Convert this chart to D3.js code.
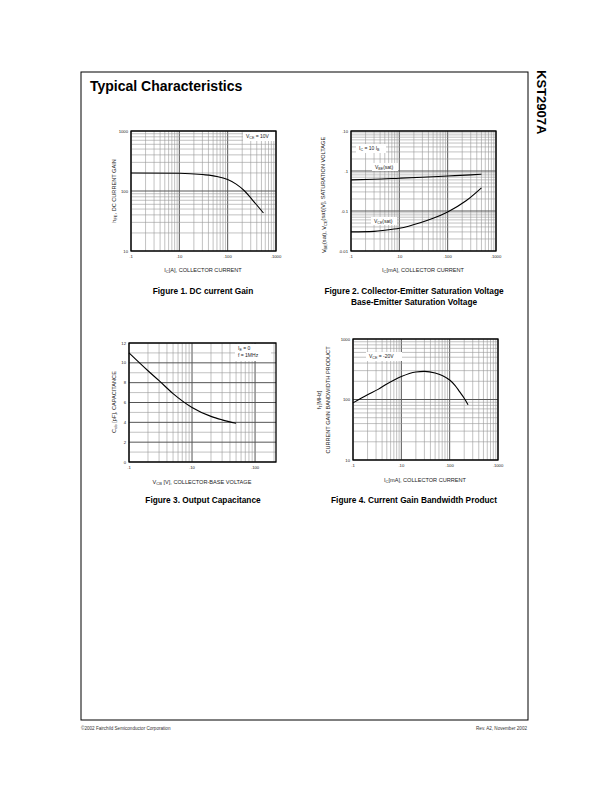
<!DOCTYPE html>
<html><head><meta charset="utf-8">
<script src="https://cdn.jsdelivr.net/npm/d3@7"></script>
<style>body{margin:0;background:#fff}svg{display:block}text{font-family:"Liberation Sans",Arial,sans-serif}</style>
</head><body>
<svg id="page" width="612" height="792"></svg>
<script>
// ---- data ----
const fig1Current = [1, 10, 30, 60, 100, 150, 224, 330, 550];
const fig1Gain = [200, 198, 188, 175, 155, 130, 100, 70, 43];
const fig1XTicks = [".1", ".10", ".100", ".1000"];
const fig1YTicks = ["10", "100", "1000"];

const fig2Current = [1, 3, 10, 30, 100, 300, 500];
const fig2Vbe = [0.60, 0.62, 0.66, 0.70, 0.75, 0.80, 0.83];
const fig2VceCurrent = [1, 3, 5, 10, 27, 50, 100, 240, 500];
const fig2Vce = [0.030, 0.031, 0.033, 0.037, 0.051, 0.066, 0.095, 0.18, 0.38];
const fig2XTicks = [".1", ".10", ".100", ".1000"];
const fig2YTicks = [".0.01", ".0.1", ".1", ".10"];

const fig3Voltage = [1, 2, 3, 5, 10, 20, 30, 50];
const fig3Cob = [11, 9.2, 8.2, 6.9, 5.5, 4.6, 4.25, 3.9];
const fig3XTicks = [".1", ".10", ".100"];
const fig3YTicks = [0, 2, 4, 6, 8, 10, 12];

const fig4Current = [1, 2, 3.3, 5, 10, 20, 30, 50, 70, 100, 130, 160, 200, 240];
const fig4Ft = [88, 120, 147, 180, 240, 285, 292, 275, 250, 210, 170, 135, 105, 82];
const fig4XTicks = [".1", ".10", ".100", ".1000"];
const fig4YTicks = ["10", "100", "1000"];

const svg = d3.select("#page");
const gridMajor = "#555", gridMinor = "#999";

function richText(sel, parts) {
  let prevSub = false;
  parts.forEach(([t, s]) => {
    const ts = sel.append("tspan").text(t);
    if (s) { ts.attr("font-size", "0.72em"); if (!prevSub) ts.attr("dy", "0.3em"); }
    else if (prevSub) ts.attr("dy", "-0.3em");
    prevSub = s;
  });
}

function logChart(o) {
  const g = svg.append("g");
  const x = d3.scaleLog().domain(o.xDomain).range([o.x0, o.x1]);
  const y = o.yLog ? d3.scaleLog().domain(o.yDomain).range([o.y1, o.y0])
                   : d3.scaleLinear().domain(o.yDomain).range([o.y1, o.y0]);
  const xt = x.ticks();
  const majLog = d => Math.abs(Math.log10(d) - Math.round(Math.log10(d))) < 1e-9;
  g.selectAll(".vg").data(xt).join("line")
    .attr("x1", d => x(d)).attr("x2", d => x(d)).attr("y1", o.y0).attr("y2", o.y1)
    .attr("stroke", d => majLog(d) ? gridMajor : gridMinor)
    .attr("stroke-width", d => majLog(d) ? 1 : 0.6);
  let yt, isMaj;
  if (o.yLog) { yt = y.ticks(); isMaj = majLog; }
  else { yt = d3.range(o.yDomain[0], o.yDomain[1] + 0.01, 1); isMaj = d => d % 2 === 0; }
  g.selectAll(".hg").data(yt).join("line")
    .attr("x1", o.x0).attr("x2", o.x1).attr("y1", d => y(d)).attr("y2", d => y(d))
    .attr("stroke", d => isMaj(d) ? gridMajor : gridMinor)
    .attr("stroke-width", d => isMaj(d) ? 1 : 0.6);
  g.append("rect").attr("x", o.x0).attr("y", o.y0).attr("width", o.x1 - o.x0).attr("height", o.y1 - o.y0)
    .attr("fill", "none").attr("stroke", "#000").attr("stroke-width", 1.3);
  o.xTickVals.forEach((v, i) => {
    g.append("text").attr("x", x(v)).attr("y", o.y1 + 7).attr("font-size", 4.2)
      .attr("text-anchor", "middle").attr("fill", "#222").text(o.xTickLabels[i]);
  });
  o.yTickVals.forEach((v, i) => {
    g.append("text").attr("x", o.x0 - 3).attr("y", y(v) + 1.5).attr("font-size", 4.2)
      .attr("text-anchor", "end").attr("fill", "#222").text(o.yTickLabels[i]);
  });
  const line = d3.line().x(d => x(d[0])).y(d => y(d[1])).curve(d3.curveMonotoneX);
  o.series.forEach(s => {
    g.append("path").datum(d3.zip(s.xs, s.ys)).attr("d", line)
      .attr("fill", "none").attr("stroke", "#000").attr("stroke-width", 1.1);
  });
  return { g, x, y };
}

// Page frame & header
svg.append("rect").attr("x", 81).attr("y", 72).attr("width", 447).attr("height", 648)
  .attr("fill", "none").attr("stroke", "#000").attr("stroke-width", 1);
svg.append("text").attr("x", 90).attr("y", 91).attr("font-size", 14).attr("font-weight", "bold")
  .text("Typical Characteristics");
svg.append("text").attr("transform", "translate(537,70) rotate(90)").attr("font-size", 13)
  .attr("font-weight", "bold").text("KST2907A");
svg.append("text").attr("x", 81).attr("y", 730).attr("font-size", 4.6).attr("fill", "#333")
  .text("©2002 Fairchild Semiconductor Corporation");
svg.append("text").attr("x", 527).attr("y", 730).attr("font-size", 4.6).attr("fill", "#333")
  .attr("text-anchor", "end").text("Rev. A2, November 2002");

function legendBox(g, cx, cy, w, h, lines) {
  g.append("rect").attr("x", cx).attr("y", cy).attr("width", w).attr("height", h).attr("fill", "#fff");
  lines.forEach((parts, i) => {
    const t = g.append("text").attr("x", cx + 3).attr("y", cy + 6 + i * 7).attr("font-size", 5).attr("fill", "#222");
    richText(t, parts);
  });
}
function axisTitle(x, y, parts, rot, size) {
  const t = svg.append("text").attr("transform", `translate(${x},${y})` + (rot ? " rotate(-90)" : ""))
    .attr("font-size", size || 5.6).attr("text-anchor", "middle").attr("fill", "#222");
  richText(t, parts);
}
function figTitle(x, y, txt) {
  svg.append("text").attr("x", x).attr("y", y).attr("font-size", 8.3).attr("font-weight", "bold")
    .attr("text-anchor", "middle").text(txt);
}

// Figure 1
const c1 = logChart({x0: 131, x1: 276, y0: 131, y1: 251, xDomain: [1, 1000], yDomain: [10, 1000], yLog: true,
  xTickVals: [1, 10, 100, 1000], xTickLabels: fig1XTicks, yTickVals: [10, 100, 1000], yTickLabels: fig1YTicks,
  series: [{xs: fig1Current, ys: fig1Gain}]});
legendBox(c1.g, 243, 132, 32, 9, [[["V", false], ["CE", true], [" = 10V", false]]]);
axisTitle(116, 191, [["h", false], ["FE", true], [", DC CURRENT GAIN", false]], true);
axisTitle(203, 272, [["I", false], ["C", true], ["[A], COLLECTOR CURRENT", false]], false);
figTitle(203, 294, "Figure 1. DC current Gain");

// Figure 2
const c2 = logChart({x0: 351, x1: 496, y0: 131, y1: 251, xDomain: [1, 1000], yDomain: [0.01, 10], yLog: true,
  xTickVals: [1, 10, 100, 1000], xTickLabels: fig2XTicks, yTickVals: [0.01, 0.1, 1, 10], yTickLabels: fig2YTicks,
  series: [{xs: fig2Current, ys: fig2Vbe}, {xs: fig2VceCurrent, ys: fig2Vce}]});
legendBox(c2.g, 356, 144, 30, 9, [[["I", false], ["C", true], [" = 10 I", false], ["B", true]]]);
legendBox(c2.g, 372, 163, 26, 8, [[["V", false], ["BE", true], ["(sat)", false]]]);
legendBox(c2.g, 371, 217, 26, 8, [[["V", false], ["CE", true], ["(sat)", false]]]);
axisTitle(326, 195, [["V", false], ["BE", true], ["(sat), V", false], ["CE", true], ["(sat)[V], SATURATION VOLTAGE", false]], true);
axisTitle(423, 272, [["I", false], ["C", true], ["[mA], COLLECTOR CURRENT", false]], false);
figTitle(414, 294, "Figure 2. Collector-Emitter Saturation Voltage");
figTitle(414, 305, "Base-Emitter Saturation Voltage");

// Figure 3
const c3 = logChart({x0: 129, x1: 276, y0: 343, y1: 462, xDomain: [1, 215], yDomain: [0, 12], yLog: false,
  xTickVals: [1, 10, 100], xTickLabels: fig3XTicks, yTickVals: fig3YTicks, yTickLabels: fig3YTicks.map(String),
  series: [{xs: fig3Voltage, ys: fig3Cob}]});
legendBox(c3.g, 235, 344, 36, 17, [[["I", false], ["E", true], [" = 0", false]], [["f = 1MHz", false]]]);
axisTitle(116, 402, [["C", false], ["ob", true], [" [pF], CAPACITANCE", false]], true);
axisTitle(202, 484, [["V", false], ["CB", true], [" [V], COLLECTOR-BASE VOLTAGE", false]], false);
figTitle(203, 503, "Figure 3. Output Capacitance");

// Figure 4
const c4 = logChart({x0: 353, x1: 498, y0: 339, y1: 460, xDomain: [1, 1000], yDomain: [10, 1000], yLog: true,
  xTickVals: [1, 10, 100, 1000], xTickLabels: fig4XTicks, yTickVals: [10, 100, 1000], yTickLabels: fig4YTicks,
  series: [{xs: fig4Current, ys: fig4Ft}]});
legendBox(c4.g, 366, 352, 36, 9, [[["V", false], ["CE", true], [" = -20V", false]]]);
axisTitle(321, 400, [["f", false], ["T", true], ["[MHz]", false]], true);
axisTitle(330, 400, [["CURRENT GAIN BANDWIDTH PRODUCT", false]], true);
axisTitle(425, 482, [["I", false], ["C", true], ["[mA], COLLECTOR CURRENT", false]], false);
figTitle(414, 503, "Figure 4. Current Gain Bandwidth Product");
</script>
</body></html>
